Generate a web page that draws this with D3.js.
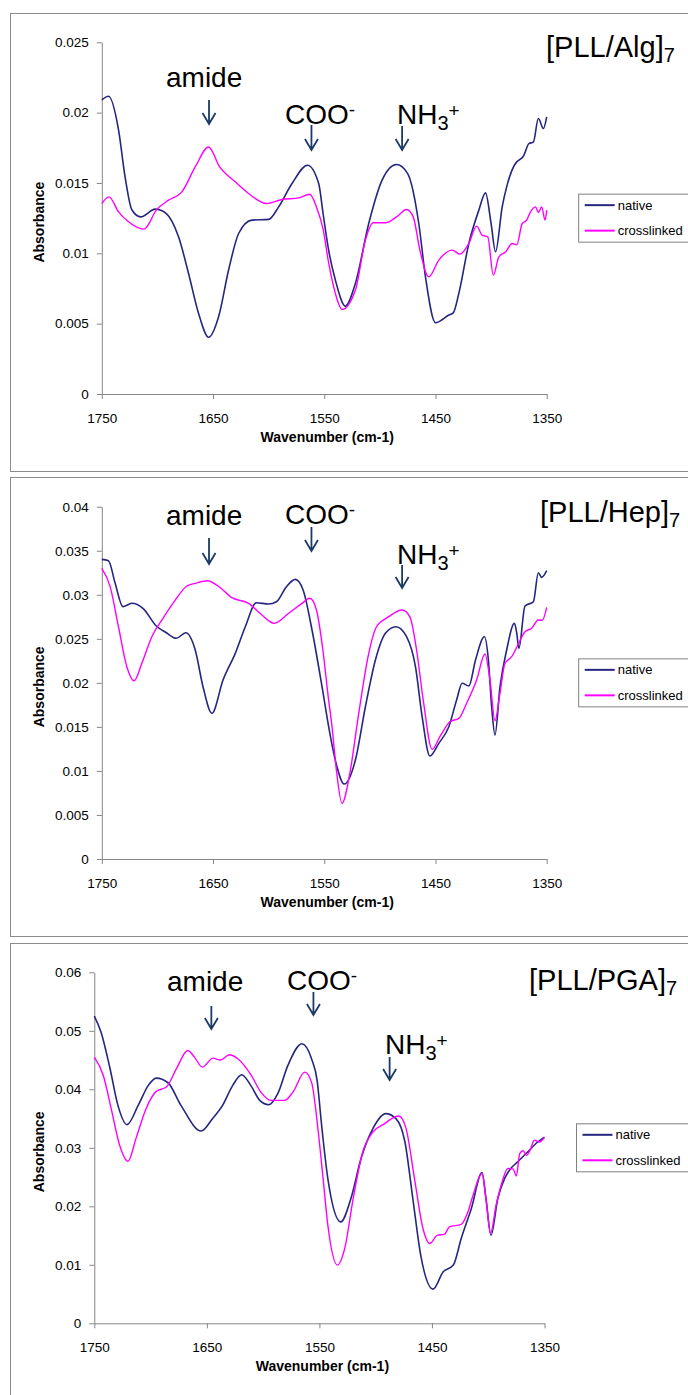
<!DOCTYPE html>
<html>
<head>
<meta charset="utf-8">
<script src="https://cdn.jsdelivr.net/npm/d3@7"></script>
<style>
body { margin: 0; background: #fff; }
text { font-family: "Liberation Sans", Arial, sans-serif; fill: #000; }
.axis text { font-size: 13.5px; }
.axis path, .axis line { stroke: #868686; }
.axis-title { font-size: 14px; font-weight: bold; }
.legend-text { font-size: 13px; }
.note { font-size: 28px; }
.title { font-size: 29px; }
</style>
</head>
<body>
<div id="viz"></div>
<script>
//Width and height
var w = 688;
var h = 1395;

var seriesNames = ["native", "crosslinked"];
var xTicks = [1750, 1650, 1550, 1450, 1350];
var algTicks = [0, 0.005, 0.01, 0.015, 0.02, 0.025];
var hepTicks = [0, 0.005, 0.01, 0.015, 0.02, 0.025, 0.03, 0.035, 0.04];
var pgaTicks = [0, 0.01, 0.02, 0.03, 0.04, 0.05, 0.06];

// [wavenumber, absorbance]
var algNative = [[1750,0.0209],[1744,0.02116],[1735,0.0188],[1729,0.0154],[1723,0.0131],[1715,0.01259],[1702,0.01314],[1692,0.01283],[1681,0.01117],[1672,0.00857],[1663,0.00573],[1654,0.00403],[1645,0.00549],[1636,0.00881],[1627,0.01141],[1615,0.01236],[1600,0.01241],[1591,0.0133],[1579,0.01496],[1565,0.01626],[1555,0.01496],[1551,0.0128],[1546,0.0102],[1540,0.0081],[1531,0.00625],[1522,0.00786],[1510,0.01212],[1498,0.0152],[1485,0.01631],[1475,0.01567],[1465,0.01212],[1459,0.00833],[1450,0.00507],[1438,0.00561],[1434,0.00577],[1429,0.00715],[1420,0.0107],[1411,0.01307],[1405,0.0143],[1400,0.01212],[1396,0.01011],[1390,0.0133],[1386,0.01472],[1377,0.0165],[1374,0.01667],[1371,0.0169],[1366,0.0178],[1362,0.0179],[1357.5,0.01958],[1353,0.01887],[1350,0.0197]];
var algCross = [[1750,0.01354],[1743.5,0.01401],[1735,0.01295],[1726,0.01224],[1712,0.01172],[1701,0.01307],[1690,0.01378],[1678,0.01437],[1666,0.01614],[1654,0.01756],[1644,0.01614],[1630,0.01508],[1618,0.01425],[1602,0.01354],[1588,0.01383],[1573,0.01394],[1563,0.0142],[1557,0.0133],[1551,0.0117],[1546,0.0093],[1540,0.00715],[1534,0.00601],[1522,0.00739],[1513,0.01094],[1506,0.01217],[1495,0.01217],[1485,0.01259],[1476,0.01311],[1470,0.01259],[1464,0.01023],[1456,0.00833],[1447,0.00952],[1435,0.01023],[1428,0.00994],[1420,0.0107],[1413,0.01193],[1408,0.01129],[1403,0.01117],[1398,0.00845],[1393,0.00975],[1387,0.0101],[1381,0.0107],[1377,0.0106],[1372,0.01212],[1368,0.01236],[1365,0.01288],[1360,0.0133],[1357.5,0.0129],[1354.5,0.0133],[1351.5,0.01236],[1350,0.01307]];

var hepNative = [[1750,0.03402],[1744,0.03387],[1738,0.0313],[1731,0.02865],[1723,0.02903],[1713,0.02846],[1701,0.02645],[1692,0.02569],[1683,0.02506],[1674.5,0.02569],[1666,0.02373],[1659,0.01956],[1651,0.01654],[1641,0.02032],[1630,0.02335],[1621,0.02637],[1611,0.0291],[1600,0.02895],[1593,0.02921],[1584,0.03092],[1576,0.03175],[1569,0.03054],[1561,0.026],[1552,0.01956],[1546,0.015],[1540,0.0112],[1532,0.00851],[1522,0.01124],[1513,0.01729],[1504,0.02259],[1495,0.02562],[1485.5,0.02637],[1476,0.02524],[1468,0.02183],[1462,0.01616],[1455,0.01169],[1447,0.01313],[1438,0.01502],[1431,0.01805],[1426,0.01995],[1420,0.01964],[1414,0.02259],[1406,0.02524],[1402.5,0.0227],[1399.5,0.01729],[1396.5,0.01408],[1392,0.01956],[1386,0.02373],[1379,0.02676],[1377,0.0257],[1375,0.02392],[1369.5,0.02872],[1362,0.02921],[1357.5,0.0325],[1354.5,0.03198],[1350,0.03273]];
var hepCross = [[1750,0.033],[1742.5,0.03092],[1735,0.02637],[1727.5,0.02183],[1721,0.02024],[1714,0.02222],[1705,0.02524],[1695,0.02733],[1684,0.0294],[1673.5,0.031],[1666,0.0313],[1655,0.0316],[1644,0.03085],[1633,0.02967],[1618,0.02903],[1606,0.0277],[1595,0.02676],[1582,0.0279],[1570,0.02903],[1563,0.0296],[1557,0.02827],[1551,0.0235],[1546.5,0.0185],[1543,0.015],[1539,0.01],[1534,0.00632],[1527,0.00973],[1519,0.01654],[1510,0.02335],[1503,0.02637],[1492,0.02751],[1480,0.02827],[1473,0.0275],[1467,0.02373],[1461,0.01805],[1453,0.01245],[1446,0.01389],[1437,0.01559],[1429,0.01597],[1422,0.01768],[1413,0.02032],[1405.5,0.02327],[1401,0.0203],[1396.5,0.0157],[1392,0.01881],[1387.5,0.02222],[1381.5,0.02297],[1375.5,0.02441],[1369.5,0.02581],[1363.5,0.0262],[1357.5,0.02713],[1354,0.0271],[1350,0.02857]];

var pgaNative = [[1750,0.0525],[1744,0.04977],[1736,0.04352],[1729,0.03725],[1721,0.03396],[1711,0.03725],[1702,0.04067],[1695,0.04191],[1684.5,0.04112],[1673,0.03725],[1655,0.03287],[1645,0.03498],[1636,0.03725],[1627,0.04067],[1619,0.04249],[1611,0.04067],[1603,0.03811],[1595,0.03737],[1587,0.03925],[1578,0.04408],[1565.5,0.04778],[1557,0.04522],[1552,0.0415],[1548,0.0338],[1542.5,0.02474],[1531,0.01734],[1522,0.02133],[1513,0.02816],[1502.5,0.03328],[1491,0.03584],[1482,0.03498],[1474,0.03099],[1467,0.02133],[1460,0.01166],[1449,0.00585],[1440,0.00881],[1431,0.00995],[1424,0.0145],[1415,0.01962],[1405.5,0.02577],[1402,0.0213],[1397.5,0.01507],[1391.5,0.02133],[1385.5,0.02474],[1380,0.02645],[1374,0.02758],[1365,0.02928],[1356,0.03099],[1350,0.03184]];
var pgaCross = [[1750,0.0455],[1742,0.04237],[1735,0.03669],[1727.5,0.03043],[1720,0.0277],[1713,0.03157],[1704,0.03669],[1695,0.03964],[1686,0.04038],[1677,0.04352],[1667,0.04664],[1661,0.0455],[1654,0.04379],[1644.5,0.04533],[1638,0.045],[1630,0.0459],[1622.5,0.04522],[1610.5,0.04237],[1602,0.03952],[1593,0.03811],[1581,0.0381],[1573.5,0.03952],[1563,0.04294],[1557,0.04123],[1551,0.0327],[1547,0.0253],[1542.5,0.01677],[1534,0.00995],[1527.5,0.0128],[1520,0.02133],[1511.5,0.02928],[1502.5,0.0327],[1492,0.03413],[1485,0.03509],[1479.5,0.03543],[1473,0.03328],[1465.5,0.02474],[1458,0.01621],[1452,0.01365],[1445,0.01507],[1439,0.0152],[1434.5,0.01649],[1424,0.0169],[1418,0.01905],[1413.5,0.0219],[1405.5,0.0256],[1402,0.0213],[1398,0.01536],[1393,0.02019],[1388.5,0.0236],[1382.5,0.02645],[1378,0.0264],[1375,0.02519],[1372,0.02901],[1369,0.0295],[1366,0.0287],[1363,0.0295],[1359,0.03128],[1354.5,0.031],[1350,0.0318]];

var color = d3.scaleOrdinal()
            .domain(seriesNames)
            .range(["#262680", "#ff00ff"]);

// layout of the three stacked charts
var panels = [
    { title: "[PLL/Alg]", ticks: algTicks, series: [algNative, algCross],
      frameTop: 13.5, frameH: 458, left: 101.8, right: 546.7, top: 42.3, bottom: 394,
      titleXY: [546, 57],
      notes: [ { txt: "amide", x: 166, y: 87, wn: 1653.6, y1: 100, y2: 124 },
               { txt: "COO", sup: "-", x: 285, y: 124, wn: 1561.5, y1: 125, y2: 150 },
               { txt: "NH", sub: "3", sup: "+", x: 397, y: 124, wn: 1480, y1: 126, y2: 150 } ] },
    { title: "[PLL/Hep]", ticks: hepTicks, series: [hepNative, hepCross],
      frameTop: 477.5, frameH: 459, left: 101.8, right: 546.7, top: 506.7, bottom: 859,
      titleXY: [540, 522],
      notes: [ { txt: "amide", x: 166, y: 525, wn: 1653.6, y1: 538, y2: 564 },
               { txt: "COO", sup: "-", x: 285, y: 524, wn: 1561.5, y1: 527, y2: 551 },
               { txt: "NH", sub: "3", sup: "+", x: 397, y: 564, wn: 1480, y1: 565, y2: 588 } ] },
    { title: "[PLL/PGA]", ticks: pgaTicks, series: [pgaNative, pgaCross],
      frameTop: 943.5, frameH: 500, left: 94.3, right: 544.5, top: 972.3, bottom: 1323.3,
      titleXY: [529, 990],
      notes: [ { txt: "amide", x: 167, y: 991, wn: 1646, y1: 1006, y2: 1029 },
               { txt: "COO", sup: "-", x: 287, y: 990, wn: 1555.3, y1: 992, y2: 1015 },
               { txt: "NH", sub: "3", sup: "+", x: 385, y: 1054, wn: 1487.6, y1: 1057, y2: 1080 } ] }
];

//Create SVG element
var svg = d3.select("#viz")
            .append("svg")
            .attr("width", w)
            .attr("height", h);

svg.append("rect").attr("width", w).attr("height", h).attr("fill", "#fff");

panels.forEach(function(p) {
    var g = svg.append("g");

    // outer chart frame (runs off the right edge)
    g.append("rect")
        .attr("x", 10.5).attr("y", p.frameTop)
        .attr("width", 700).attr("height", p.frameH)
        .attr("fill", "none").attr("stroke", "#8c8c8c");

    var x = d3.scaleLinear().domain([1750, 1350]).range([p.left, p.right]);
    var y = d3.scaleLinear().domain([0, d3.max(p.ticks)]).range([p.bottom, p.top]);

    g.append("g").attr("class", "axis")
        .attr("transform", "translate(" + p.left + ",0)")
        .call(d3.axisLeft(y).tickValues(p.ticks).tickSize(5).tickSizeOuter(0)
              .tickPadding(8).tickFormat(d3.format("~g")));

    g.append("g").attr("class", "axis")
        .attr("transform", "translate(0," + p.bottom + ")")
        .call(d3.axisBottom(x).tickValues(xTicks).tickSize(5).tickSizeOuter(0)
              .tickPadding(14).tickFormat(d3.format("d")));

    g.selectAll(".axis text").attr("fill", "#000");

    g.append("text").attr("class", "axis-title")
        .attr("text-anchor", "middle")
        .attr("x", (p.left + p.right) / 2 + 3)
        .attr("y", p.bottom + 48)
        .text("Wavenumber (cm-1)");

    g.append("text").attr("class", "axis-title")
        .attr("text-anchor", "middle")
        .attr("transform", "translate(43.5," + ((p.top + p.bottom) / 2 + 4) + ") rotate(-90)")
        .text("Absorbance");

    var line = d3.line()
        .x(function(d) { return x(d[0]); })
        .y(function(d) { return y(d[1]); })
        .curve(d3.curveMonotoneX);

    g.selectAll("path.spec")
        .data(p.series)
        .enter()
        .append("path")
        .attr("class", "spec")
        .attr("fill", "none")
        .attr("stroke", function(d, i) { return color(seriesNames[i]); })
        .attr("stroke-width", function(d, i) { return i === 0 ? 1.6 : 1.4; })
        .attr("d", line);

    // title with subscript 7
    var t = g.append("text").attr("class", "title")
        .attr("x", p.titleXY[0]).attr("y", p.titleXY[1])
        .text(p.title);
    t.append("tspan").attr("font-size", 20).attr("dy", 5).text("7");

    // band labels + arrows
    p.notes.forEach(function(n) {
        var nt = g.append("text").attr("class", "note")
            .attr("x", n.x).attr("y", n.y).text(n.txt);
        if (n.sub) nt.append("tspan").attr("font-size", 20).attr("dy", 6).text(n.sub);
        if (n.sup) nt.append("tspan").attr("font-size", 19).attr("dy", n.sub ? -13 : -8).text(n.sup);

        var ax = x(n.wn);
        g.append("path")
            .attr("d", "M" + ax + "," + n.y1 + "V" + n.y2 +
                       "M" + (ax - 6.5) + "," + (n.y2 - 11) + "L" + ax + "," + n.y2 + "L" + (ax + 6.5) + "," + (n.y2 - 11))
            .attr("fill", "none")
            .attr("stroke", "#1b3a66")
            .attr("stroke-width", 1.8);
    });

    // legend box
    var cy = (p.top + p.bottom) / 2;
    var lg = g.append("g").attr("transform", "translate(" + (p.right + 32) + "," + (cy - 24) + ")");
    lg.append("rect").attr("width", 130).attr("height", 48)
        .attr("fill", "#fff").attr("stroke", "#808080");
    var rows = lg.selectAll("g.row")
        .data(seriesNames)
        .enter()
        .append("g")
        .attr("class", "row")
        .attr("transform", function(d, i) { return "translate(0," + (11 + i * 25.5) + ")"; });
    rows.append("line").attr("x1", 6).attr("x2", 36)
        .attr("stroke", function(d) { return color(d); })
        .attr("stroke-width", 2);
    rows.append("text").attr("class", "legend-text")
        .attr("x", 39).attr("dy", "0.35em")
        .text(function(d) { return d; });
});
</script>
</body>
</html>
